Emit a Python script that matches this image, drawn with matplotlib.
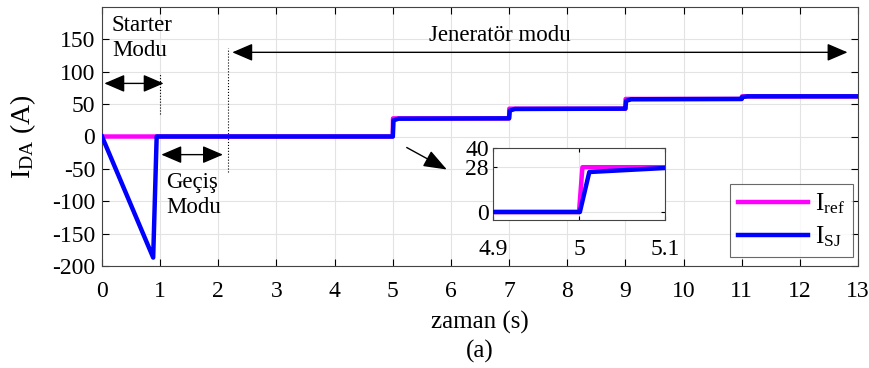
import numpy as np
import matplotlib
matplotlib.use("Agg")
import matplotlib.pyplot as plt

plt.rcParams['font.family'] = ['Liberation Serif', 'DejaVu Serif']
plt.rcParams['mathtext.fontset'] = 'custom'
plt.rcParams['mathtext.rm'] = 'Liberation Serif'
plt.rcParams['mathtext.it'] = 'Liberation Serif:italic'
plt.rcParams['axes.unicode_minus'] = False

# reference current (step profile)
t_ref = [0, 5.0, 5.004, 7.0, 7.004, 9.0, 9.004, 11.0, 11.004, 13.0]
i_ref = [0, 0, 28, 28, 43, 43, 58, 58, 62, 62]

# measured current
t_sj = [0, 0.88, 0.94, 5.001, 5.012, 5.1, 6.99, 7.0, 7.012, 7.1, 8.99, 9.0, 9.012, 9.1,
        10.99, 11.0, 11.012, 11.1, 13.0]
i_sj = [0, -187, 0, 0, 25, 27.5, 28, 28, 40, 42.5, 43, 43, 55, 57.5, 58, 58, 61, 62, 62]

xticks = list(range(0, 14))
yticks = [-200, -150, -100, -50, 0, 50, 100, 150]

fig = plt.figure(figsize=(8.69, 3.68), dpi=100)
ax = fig.add_axes([102 / 869, 1 - 266 / 368, 756 / 869, 259 / 368])

ax.plot(t_ref, i_ref, color='#ff00ff', lw=3.2, label=r'I$_{\mathrm{ref}}$', zorder=3)
ax.plot(t_sj, i_sj, color='#0000ff', lw=3.2, label=r'I$_{\mathrm{SJ}}$', zorder=4)

ax.set_xlim(0, 13)
ax.set_ylim(-200, 200)
ax.set_xticks(xticks)
ax.set_yticks(yticks)
ax.tick_params(direction='in', top=True, right=True, labelsize=17, length=5, pad=5)
ax.tick_params(axis='x', pad=11)
ax.grid(True, color='#e3e3e3', lw=0.8)
for s in ax.spines.values():
    s.set_color('#444444')
    s.set_linewidth(0.8)

ax.set_xlabel('zaman (s)', fontsize=18, labelpad=6)
ax.set_ylabel(r'I$_{\mathrm{DA}}$ (A)', fontsize=20, labelpad=10)
fig.text(480 / 869, 1 - 351 / 368, '(a)', fontsize=18, ha='center', va='center')

leg = ax.legend(loc='lower right', bbox_to_anchor=(0.993, 0.035), borderaxespad=0,
                fontsize=18, frameon=True, fancybox=False, edgecolor='#444444',
                handlelength=2.8, borderpad=0.3, labelspacing=0.35, handletextpad=0.3)
leg.get_frame().set_linewidth(0.8)

# annotations
arrow_kw = dict(arrowstyle='<|-|>,head_length=0.7,head_width=0.3', color='black', lw=1.0,
                mutation_scale=18, shrinkA=0, shrinkB=0)
ax.text(0.17, 188, 'Starter\nModu', fontsize=16.5, va='top', ha='left', linespacing=1.25)
ax.annotate('', xy=(0.04, 82), xytext=(1.06, 82), arrowprops=arrow_kw)
ax.plot([1.0, 1.0], [35, 97], color='black', lw=0.8, ls=':')

ax.text(1.1, -55, 'Geçiş\nModu', fontsize=16.5, va='top', ha='left', linespacing=1.25)
ax.annotate('', xy=(1.02, -28), xytext=(2.08, -28), arrowprops=arrow_kw)
ax.plot([2.16, 2.16], [-55, 137], color='black', lw=0.8, ls=':')

ax.text(6.84, 139, 'Jeneratör modu', fontsize=16.5, va='bottom', ha='center')
ax.annotate('', xy=(2.24, 130), xytext=(12.82, 130), arrowprops=arrow_kw)

ax.annotate('', xy=(5.93, -51), xytext=(5.24, -17),
            arrowprops=dict(arrowstyle='-|>,head_length=0.8,head_width=0.3', color='black',
                            lw=1.0, mutation_scale=18, shrinkA=0, shrinkB=0))

# inset zoom
axin = fig.add_axes([493 / 869, 1 - 220 / 368, 172 / 869, 72 / 368])
axin.plot(t_ref, i_ref, color='#ff00ff', lw=3.2, zorder=3)
axin.plot(t_sj, i_sj, color='#0000ff', lw=3.2, zorder=4)
axin.set_xlim(4.9, 5.1)
axin.set_ylim(-5, 40)
axin.set_xticks([4.9, 5.0, 5.1])
axin.set_xticklabels(['4.9', '5', '5.1'])
axin.set_yticks([0, 28, 40])
axin.tick_params(direction='in', top=True, right=True, labelsize=17, length=3, pad=3)
axin.tick_params(axis='x', pad=14)
axin.grid(True, color='#e3e3e3', lw=0.8)
for s in axin.spines.values():
    s.set_color('#444444')
    s.set_linewidth(0.8)

fig.savefig('out.png', dpi=100)
